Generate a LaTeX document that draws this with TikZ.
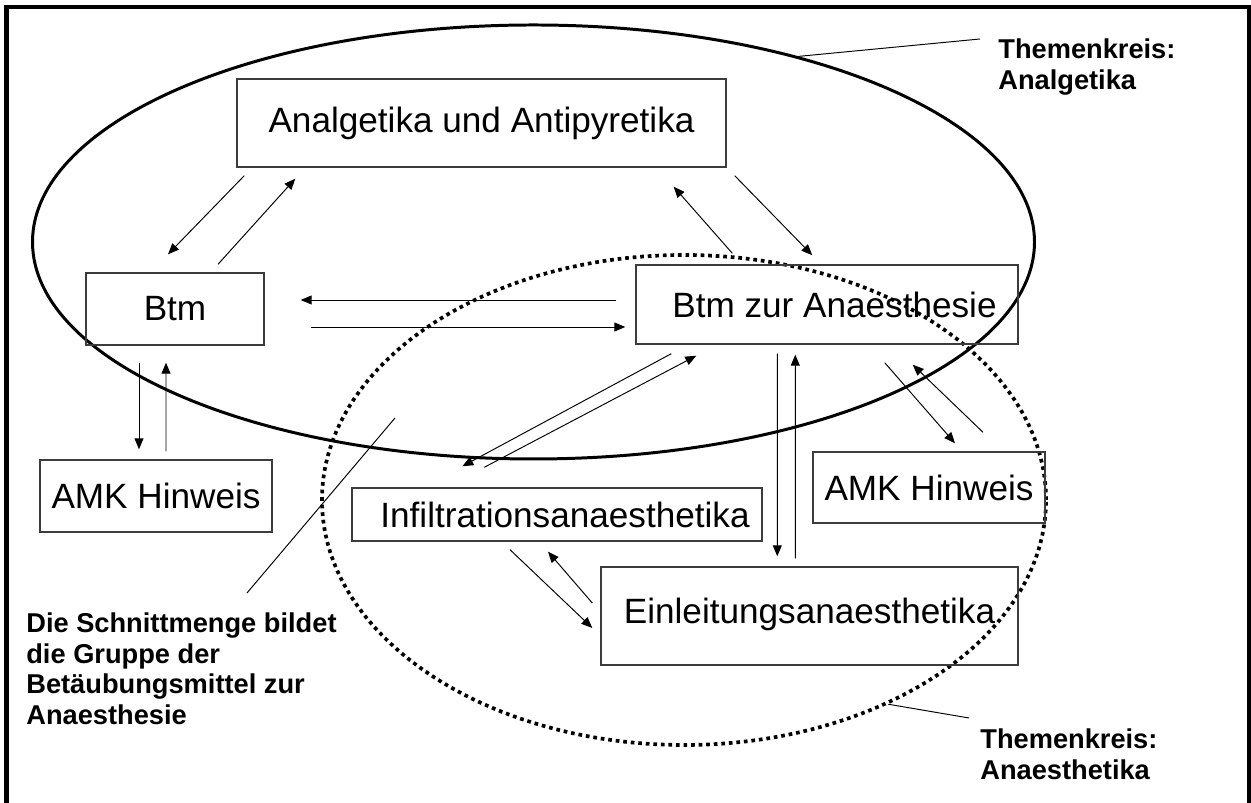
\documentclass[tikz,border=0pt]{standalone}
\usepackage{fontspec}
\setmainfont{Liberation Sans}
\usepackage{xcolor}
\definecolor{boxgray}{RGB}{60,60,60}
\usepackage{tikz}
\usetikzlibrary{arrows.meta, positioning, shapes.geometric, calc}

\begin{document}
\begin{tikzpicture}[
  box/.style={draw=boxgray, line width=0.8pt, inner sep=0pt, font=\fontsize{20}{24}\selectfont},
  arr/.style={-{Triangle[length=2.2mm,width=1.8mm]}, line width=0.55pt},
  kreis/.style={draw, ellipse, line width=1.7pt, inner sep=0pt},
  note/.style={font=\fontsize{15.5}{17.6}\selectfont\bfseries, align=left, anchor=north west, inner sep=0pt},
  pointer/.style={line width=0.55pt}
]
  \useasboundingbox (0,0) rectangle (25.02,16.06);
  % Outer frame (open at the bottom)
  \draw[line width=2.3pt] (0.13,0) -- (0.13,15.92) -- (24.98,15.92) -- (24.98,0);

  % --- Themenkreise ---
  \node[kreis, minimum width=20.04cm, minimum height=8.68cm] (kreisAna) at (10.67,11.22) {};
  \node[kreis, line width=2.1pt, dash pattern=on 2.1pt off 2.2pt, minimum width=14.48cm, minimum height=9.8cm] (kreisAnae) at (13.68,6.06) {};

  % --- Boxes ---
  \node[box, minimum width=9.78cm, minimum height=1.76cm] (ana) at (9.63,13.60) {Analgetika und Antipyretika};
  \node[box, minimum width=3.56cm, minimum height=1.44cm] (btm) at (3.50,9.88) {Btm};
  \node[box, minimum width=7.64cm, minimum height=1.58cm] (btmza) at (16.54,9.97) {\hspace*{0.30cm}Btm zur Anaesthesie};
  \node[box, minimum width=4.64cm, minimum height=1.44cm] (amkBtm) at (3.12,6.14) {AMK Hinweis};
  \node[box, minimum width=8.20cm, minimum height=1.06cm] (infil) at (11.14,5.77) {\hspace*{0.32cm}Infiltrationsanaesthetika};
  \node[box, minimum width=8.34cm, minimum height=1.96cm] (einl) at (16.19,3.74) {\raisebox{0.22cm}{Einleitungsanaesthetika}};
  \node[box, minimum width=4.64cm, minimum height=1.42cm] (amkAnae) at (18.58,6.31) {AMK Hinweis};

  % --- Arrows ---
  % Analgetika <-> Btm
  \draw[arr] ($(ana.south west)+(0.16,-0.16)$) -- ($(btm.north)+(-0.14,0.36)$);
  \draw[arr] ($(btm.north)+(0.86,0.16)$) -- ($(ana.south west)+(1.18,-0.22)$);
  % Analgetika <-> Btm zur Anaesthesie
  \draw[arr] ($(btmza.north west)+(1.94,0.22)$) -- ($(ana.south east)+(-1.06,-0.38)$);
  \draw[arr] ($(ana.south east)+(0.16,-0.16)$) -- ($(btmza.north west)+(3.54,0.18)$);
  % Btm <-> Btm zur Anaesthesie
  \draw[arr] ($(btmza.west)+(-0.38,0.09)$) -- ($(btm.east)+(0.72,0.18)$);
  \draw[arr] ($(btm.east)+(0.92,-0.36)$) -- ($(btmza.west)+(-0.20,-0.45)$);
  % Btm <-> AMK Hinweis
  \draw[arr] ($(btm.south)+(-0.72,-0.34)$) -- ($(amkBtm.north)+(-0.34,0.20)$);
  \draw[arr] ($(amkBtm.north)+(0.20,0.16)$) -- ($(btm.south)+(-0.18,-0.34)$);
  % Btm zur Anaesthesie <-> Infiltrationsanaesthetika
  \draw[arr] ($(btmza.south west)+(0.72,-0.18)$) -- ($(infil.north west)+(2.22,0.42)$);
  \draw[arr] ($(infil.north west)+(2.66,0.40)$) -- ($(btmza.south west)+(1.22,-0.22)$);
  % Btm zur Anaesthesie <-> Einleitungsanaesthetika
  \draw[arr] ($(btmza.south west)+(2.84,-0.18)$) -- ($(einl.north west)+(3.54,0.20)$);
  \draw[arr] ($(einl.north west)+(3.90,0.16)$) -- ($(btmza.south west)+(3.20,-0.20)$);
  % Btm zur Anaesthesie <-> AMK Hinweis
  \draw[arr] ($(btmza.south east)+(-2.68,-0.36)$) -- ($(amkAnae.north)+(0.52,0.16)$);
  \draw[arr] ($(amkAnae.north)+(1.08,0.38)$) -- ($(btmza.south east)+(-2.12,-0.40)$);
  % Infiltrationsanaesthetika <-> Einleitungsanaesthetika
  \draw[arr] ($(infil.south)+(-0.94,-0.16)$) -- ($(einl.west)+(-0.16,-0.24)$);
  \draw[arr] ($(einl.west)+(-0.16,0.26)$) -- ($(infil.south)+(-0.18,-0.20)$);

  % --- Labels ---
  \node[note] (labAna) at (19.96,15.30) {Themenkreis:\\Analgetika};
  \node[note] (labAnae) at (19.60,1.50) {Themenkreis:\\Anaesthetika};
  \node[note] (labSchnitt) at (0.52,3.82) {Die Schnittmenge bildet\\die Gruppe der\\Betäubungsmittel zur\\Anaesthesie};
  \coordinate (schnitt) at (7.90,7.70);
  \draw[pointer] (kreisAna.35.6) -- ($(labAna.north west)+(-0.36,-0.02)$);
  \draw[pointer] (kreisAnae.-45) -- ($(labAnae.north west)+(-0.22,0.20)$);
  \draw[pointer] ($(labSchnitt.north west)+(4.42,0.38)$) -- (schnitt);
\end{tikzpicture}
\end{document}
